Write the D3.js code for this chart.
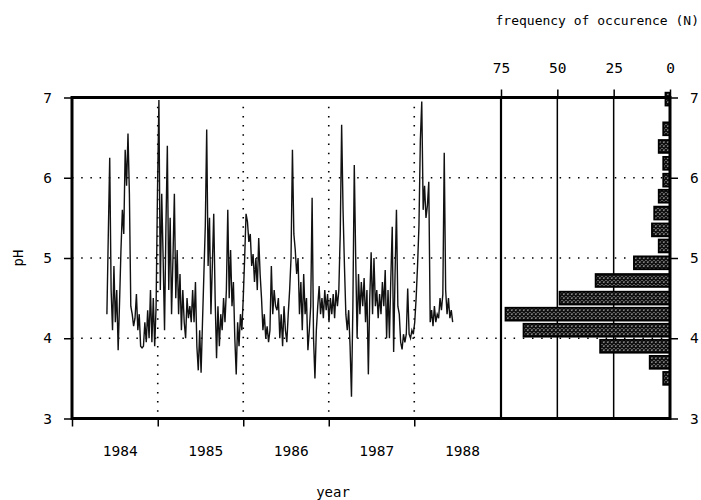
<!DOCTYPE html>
<html>
<head>
<meta charset="utf-8">
<script src="https://cdn.jsdelivr.net/npm/d3@7"></script>
<style>
  body { margin: 0; background: #fff; }
  text { font-family: "DejaVu Sans Mono", monospace; fill: #000; }
</style>
</head>
<body>
<svg id="chart" width="701" height="500"></svg>
<script>
// pH series, one value every 6 days starting 29 May 1984
const seriesStart = new Date(1984, 4, 29);
const stepDays = 6;
const phValues = [
  4.3, 5.3, 6.25, 4.6, 4.1, 4.9, 4.2, 4.6, 3.85, 4.45,
  5.1, 5.6, 5.3, 6.35, 5.9, 6.55, 5.8, 4.4, 4.3, 4.15,
  4.25, 4.55, 4.1, 4.3, 3.9, 3.88, 3.9, 4.2, 3.95, 4.35,
  4.0, 4.6, 3.95, 4.5, 3.9, 4.4, 5.85, 6.97, 4.6, 5.8,
  5.0, 4.1, 5.4, 6.4, 4.6, 5.5, 4.3, 5.0, 5.8, 4.5,
  5.1, 4.3, 4.8, 4.1, 4.6, 4.2, 4.0, 4.5, 4.25, 4.4,
  4.2, 4.6, 4.2, 4.7, 3.9, 3.6, 4.1, 3.57, 4.2, 4.8,
  5.4, 6.6, 4.9, 5.5, 4.3, 4.9, 5.55, 4.5, 3.75, 4.4,
  3.9, 4.3, 4.1, 4.5, 4.2, 4.6, 5.6, 4.5, 5.1, 4.4,
  4.7, 4.0, 3.55, 4.2, 3.9, 4.3, 4.1, 4.5, 5.0, 5.55,
  5.45, 5.2, 5.3, 4.9, 5.05, 4.7, 5.0, 4.6, 5.25, 4.8,
  4.5, 4.1, 4.3, 4.0, 4.15, 3.95, 4.1, 4.9, 4.3, 4.6,
  4.4, 4.35, 4.5, 4.0, 4.3, 3.9, 4.4, 4.1, 3.95, 4.3,
  4.6, 5.0, 6.35, 5.3, 5.1, 4.8, 5.0, 4.3, 4.7, 4.1,
  4.8, 4.3, 4.5, 3.85, 4.1, 4.4, 5.75, 4.0, 3.5, 4.1,
  4.4, 4.65, 4.3, 4.5, 4.25, 4.6, 4.35, 4.55, 4.2, 4.5,
  4.3, 4.55, 4.25, 4.6, 4.4, 4.6, 5.3, 6.66, 5.6, 4.9,
  4.3, 4.1, 4.35, 3.9, 3.27, 4.4, 6.16, 5.0, 4.0, 4.8,
  4.3, 4.7, 4.4, 4.75, 4.2, 4.6, 3.55, 4.5, 5.07, 4.3,
  5.0, 4.4, 4.6, 4.25, 4.55, 4.3, 4.7, 4.4, 4.85, 4.0,
  4.6, 4.0, 4.75, 5.39, 3.83, 4.8, 5.6, 4.4, 4.3, 3.95,
  3.86, 4.05, 3.95, 4.05, 4.62, 4.05, 4.0, 4.1, 4.05, 4.2,
  4.5, 4.9, 5.4, 6.47, 6.95, 5.6, 5.9, 5.5, 5.65, 5.95,
  4.2, 4.35, 4.15, 4.4, 4.2, 4.3, 4.25, 4.5, 4.35, 4.55,
  6.31, 4.6, 4.3, 4.5, 4.25, 4.35, 4.2
];

// histogram of pH (bin centre, count)
const binCenters = [3.5, 3.7, 3.9, 4.1, 4.3, 4.5, 4.72, 4.94, 5.15, 5.35, 5.56, 5.77, 5.97, 6.18, 6.39, 6.61, 6.98];
const binCounts  = [3, 9, 31, 65, 73, 49, 33, 16, 5, 8, 7, 5, 3, 3, 5, 3, 2];
const binHeight = 0.16;

const phTicks = [3, 4, 5, 6, 7];
const phGrid = [4, 5, 6];
const countTicks = [0, 25, 50, 75];
const gridCounts = [25, 50, 75];
const years = [1984, 1985, 1986, 1987, 1988];

const svg = d3.select("#chart");

const x = d3.scaleTime()
    .domain([new Date(1984, 0, 1), new Date(1989, 0, 1)])
    .range([72, 500]);
const y = d3.scaleLinear().domain([3, 7]).range([418.5, 97.5]);
const hx = d3.scaleLinear().domain([0, 75]).range([670, 501]);

// crosshatch fill for the bars
const pat = svg.append("defs").append("pattern")
    .attr("id", "hatch")
    .attr("patternUnits", "userSpaceOnUse")
    .attr("width", 4).attr("height", 4);
pat.append("rect").attr("width", 4).attr("height", 4).attr("fill", "#eee");
pat.append("path").attr("d", "M0,0L4,4M4,0L0,4M-1,3L1,5M3,-1L5,1M-1,1L1,-1M3,5L5,3")
    .attr("stroke", "#111").attr("stroke-width", 1.6);

// dotted grid
svg.append("g").selectAll("line")
    .data(phGrid)
    .enter().append("line")
    .attr("x1", x.range()[0]).attr("x2", hx(0))
    .attr("y1", d => y(d)).attr("y2", d => y(d))
    .attr("stroke", "#000").attr("stroke-width", 1.6)
    .attr("stroke-dasharray", "1.5,7.7");

svg.append("g").selectAll("line")
    .data(years.slice(1))
    .enter().append("line")
    .attr("x1", d => x(new Date(d, 0, 1))).attr("x2", d => x(new Date(d, 0, 1)))
    .attr("y1", y(7)).attr("y2", y(3))
    .attr("stroke", "#000").attr("stroke-width", 1.6)
    .attr("stroke-dasharray", "1.5,7.7");

// solid count lines
svg.append("g").selectAll("line")
    .data(gridCounts)
    .enter().append("line")
    .attr("x1", d => hx(d)).attr("x2", d => hx(d))
    .attr("y1", y(7)).attr("y2", y(3))
    .attr("stroke", "#000")
    .attr("stroke-width", d => d === 75 ? 2.2 : 1.5);

// time series
const line = d3.line()
    .x((d, i) => x(d3.timeDay.offset(seriesStart, i * stepDays)))
    .y(d => y(d));

svg.append("path")
    .datum(phValues)
    .attr("d", line)
    .attr("fill", "none")
    .attr("stroke", "#111")
    .attr("stroke-width", 1.4)
    .attr("stroke-linejoin", "miter");

// histogram bars
svg.append("g").selectAll("rect")
    .data(binCenters)
    .enter().append("rect")
    .attr("x", (d, i) => hx(binCounts[i]))
    .attr("width", (d, i) => hx(0) - hx(binCounts[i]))
    .attr("y", d => y(d + binHeight / 2))
    .attr("height", d => y(d - binHeight / 2) - y(d + binHeight / 2))
    .attr("fill", "url(#hatch)")
    .attr("stroke", "#000")
    .attr("stroke-width", 1.8);

// frame
const frame = svg.append("g").attr("stroke", "#000").attr("stroke-width", 3);
frame.append("line").attr("x1", x.range()[0]).attr("x2", hx(0)).attr("y1", y(7)).attr("y2", y(7));
frame.append("line").attr("x1", x.range()[0]).attr("x2", hx(0)).attr("y1", y(3)).attr("y2", y(3));
frame.append("line").attr("x1", x.range()[0]).attr("x2", x.range()[0]).attr("y1", y(7) - 1.5).attr("y2", y(3) + 1.5);
frame.append("line").attr("x1", hx(0)).attr("x2", hx(0)).attr("y1", y(7) - 1.5).attr("y2", y(3) + 1.5);

function styleAxis(g) {
    g.select(".domain").remove();
    g.selectAll(".tick line").attr("stroke", "#000").attr("stroke-width", 1.5);
    g.selectAll(".tick text")
        .attr("font-family", "DejaVu Sans Mono, monospace")
        .attr("font-size", 14.5)
        .attr("fill", "#000");
}

svg.append("g")
    .attr("transform", `translate(${x.range()[0]},0)`)
    .call(d3.axisLeft(y).tickValues(phTicks).tickSize(8).tickPadding(12).tickFormat(d3.format("d")))
    .call(styleAxis);

svg.append("g")
    .attr("transform", `translate(${hx(0)},0)`)
    .call(d3.axisRight(y).tickValues(phTicks).tickSize(8).tickPadding(12).tickFormat(d3.format("d")))
    .call(styleAxis);

svg.append("g")
    .attr("transform", `translate(0,${y(7)})`)
    .call(d3.axisTop(hx).tickValues(countTicks).tickSize(8).tickPadding(17).tickFormat(d3.format("d")))
    .call(styleAxis);

svg.append("g")
    .attr("transform", `translate(0,${y(3)})`)
    .call(d3.axisBottom(x).tickValues(years.map(d => new Date(d, 0, 1))).tickSize(8).tickFormat(""))
    .call(styleAxis);

// year labels centred in each year
svg.append("g").selectAll("text")
    .data(years)
    .enter().append("text")
    .attr("x", d => x(new Date(d, 6, 25)))
    .attr("y", 456)
    .attr("text-anchor", "middle")
    .attr("font-size", 14.5)
    .text(d => d);

svg.append("text")
    .attr("x", 333).attr("y", 497)
    .attr("text-anchor", "middle")
    .attr("font-size", 14)
    .text("year");

svg.append("text")
    .attr("transform", "translate(23,258) rotate(-90)")
    .attr("text-anchor", "middle")
    .attr("font-size", 14)
    .text("pH");

svg.append("text")
    .attr("x", 699).attr("y", 25)
    .attr("text-anchor", "end")
    .attr("font-size", 13)
    .text("frequency of occurence (N)");
</script>
</body>
</html>
